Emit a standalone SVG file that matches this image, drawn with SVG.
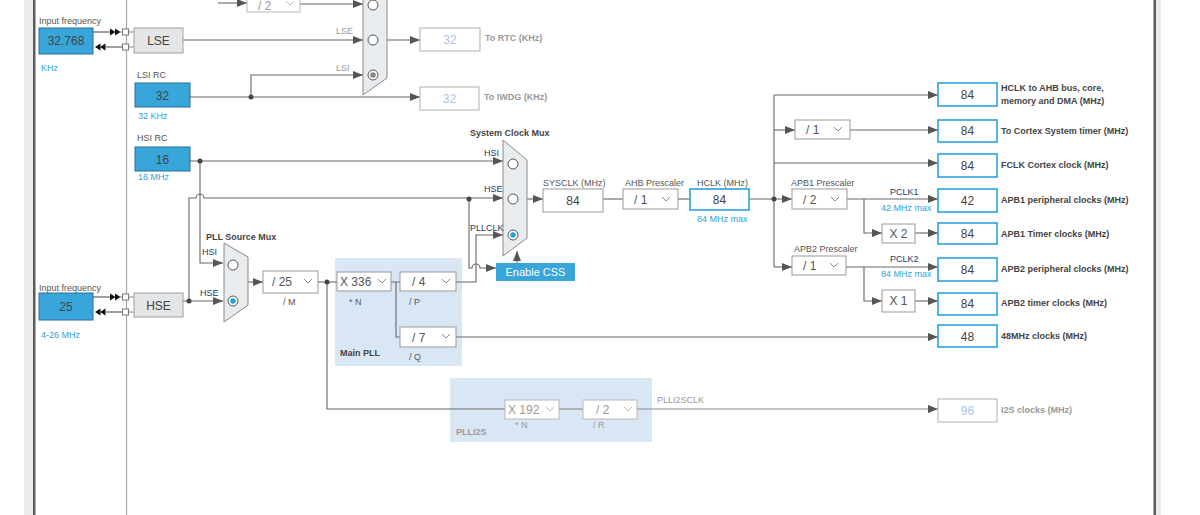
<svg xmlns="http://www.w3.org/2000/svg" width="1200" height="515" viewBox="0 0 1200 515">
<defs>
<style>
text{font-family:"Liberation Sans",Arial,sans-serif;}
.lbl{font-size:9px;fill:#555;}
.lblb{font-size:9px;fill:#444;font-weight:bold;}
.blu{font-size:9px;fill:#2aa2dc;}
.sig{font-size:9px;fill:#1d3a66;}
.gry{font-size:9px;fill:#999;}
.gryb{font-size:9px;fill:#999;font-weight:bold;}
.val{font-size:12px;fill:#444;text-anchor:middle;}
.valg{font-size:12px;fill:#aac4e4;text-anchor:middle;}
.dd{font-size:12px;fill:#555;}
.ddg{font-size:12px;fill:#999;}
.inbox{fill:#38a6da;stroke:#2b6f98;stroke-width:1;}
.gbox{fill:#e4e5e7;stroke:#a0a0a0;stroke-width:1;}
.dbox{fill:#fff;stroke:#999;stroke-width:1;}
.dboxg{fill:#fff;stroke:#b8b8b8;stroke-width:1;}
.obox{fill:#fff;stroke:#2aa2dc;stroke-width:1.6;}
.oboxg{fill:#fff;stroke:#b0b0b0;stroke-width:1;}
.mux{fill:#e9ecef;stroke:#8a8a8a;stroke-width:1;}
.panel{fill:#d9e7f5;}
.chev{fill:none;stroke:#888;stroke-width:1;}
.chevg{fill:none;stroke:#bbb;stroke-width:1;}
.ln{fill:none;stroke:#666;stroke-width:1.1;}
.lng{fill:none;stroke:#888;stroke-width:1.1;}
.arr{marker-end:url(#a);}
.circ{fill:#fff;stroke:#555;stroke-width:1;}
.dot{fill:#444;}
</style>
<marker id="a" markerWidth="10" markerHeight="8" refX="10" refY="4" orient="auto" markerUnits="userSpaceOnUse"><path d="M0,0 L10,4 L0,8 z" fill="#555"/></marker>
</defs>
<rect width="1200" height="515" fill="#fff"/>
<rect x="24" y="0" width="9" height="515" fill="#ebebeb"/>
<rect x="33" y="0" width="2.5" height="515" fill="#5c5c5c"/>
<rect x="1153.5" y="0" width="2.5" height="515" fill="#5c5c5c"/>
<rect x="1156" y="0" width="5" height="515" fill="#ebebeb"/>
<line x1="126.5" y1="0" x2="126.5" y2="515" stroke="#aaa" stroke-width="1.2"/>

<g id="panels">
<rect class="panel" x="335" y="258" width="127" height="108"/>
<rect class="panel" x="450" y="378" width="202" height="64"/>
</g>

<g id="connectors">
<path class="ln arr" d="M218,3 H247"/>
<path class="ln arr" d="M300,4 H363"/>
<path class="ln arr" d="M183,40 H363"/>
<path class="ln arr" d="M190,97 H420"/>
<path class="ln arr" d="M251,97 V75 H363"/>
<path class="ln arr" d="M387,40 H420"/>
<path class="ln arr" d="M190,161 H503"/>
<path class="ln arr" d="M200,161 V263 H223"/>
<path class="ln arr" d="M183,301 H223"/>
<path class="ln arr" d="M189,301 V198 H196 a4,4 0 0 1 8,0 H503"/>
<path class="ln arr" d="M469,199 V268 H472 a4,4 0 0 1 8,0 H496"/>
<path class="ln arr" d="M456,282 H476 V235 H503"/>
<path class="ln arr" d="M517,263 V251"/>
<path class="ln arr" d="M248,282 H263"/>
<path class="ln" d="M318,282 H337"/>
<path class="ln" d="M391,282 H400 M396,282 V337 H400"/>
<path class="ln" d="M327,282 V409 H505"/>
<path class="lng" d="M559,409 H583"/>
<path class="lng arr" d="M637,409 H938"/>
<path class="ln arr" d="M456,337 H938"/>
<path class="ln arr" d="M527,199 H543"/>
<path class="ln" d="M603,199 H623"/>
<path class="ln" d="M678,199 H690"/>
<path class="ln arr" d="M749,199 H792"/>
<path class="ln" d="M774,95 V267"/>
<path class="ln arr" d="M774,95 H938"/>
<path class="ln arr" d="M774,130 H795"/>
<path class="ln arr" d="M850,130 H938"/>
<path class="ln arr" d="M774,163 H938"/>
<path class="ln arr" d="M774,267 H792"/>
<path class="ln arr" d="M847,199 H938"/>
<path class="ln arr" d="M864,199 V233 H882"/>
<path class="ln arr" d="M915,233 H938"/>
<path class="ln arr" d="M846,267 H938"/>
<path class="ln arr" d="M864,267 V301 H882"/>
<path class="ln arr" d="M915,301 H938"/>
<circle class="dot" cx="251" cy="97" r="2.5"/>
<circle class="dot" cx="200" cy="161" r="2.5"/>
<circle class="dot" cx="189" cy="301" r="2.5"/>
<circle class="dot" cx="469" cy="199" r="2.5"/>
<circle class="dot" cx="327" cy="282" r="2.5"/>
<circle class="dot" cx="774" cy="199" r="2.5"/>
</g>

<g id="lse-input">
<text class="lbl" x="39" y="24">Input frequency</text>
<rect class="inbox" x="39" y="28" width="54" height="26"/>
<text class="val" x="66" y="45">32.768</text>
<text class="blu" x="41" y="71">KHz</text>
<path d="M93,32 H111 M106,47 H123" stroke="#444" stroke-width="1.2"/>
<polygon points="110,28.5 115.5,32 110,35.5" fill="#111"/>
<polygon points="115,28.5 120.5,32 115,35.5" fill="#111"/>
<polygon points="95,47 100.5,43.5 100.5,50.5" fill="#111"/>
<polygon points="100,47 105.5,43.5 105.5,50.5" fill="#111"/>
<path d="M120,32 H134 M128,47 H134" stroke="#888" stroke-width="1"/>
<rect x="122.5" y="29" width="6" height="6" fill="#fff" stroke="#777"/>
<rect x="122.5" y="44" width="6" height="6" fill="#fff" stroke="#777"/>
</g>
<g id="lse">
<rect class="gbox" x="134" y="28" width="49" height="25"/>
<text x="158.5" y="45" font-size="12" fill="#444" text-anchor="middle">LSE</text>
</g>

<g id="lsi-rc">
<text class="lbl" x="137" y="78">LSI RC</text>
<rect class="inbox" x="135" y="83" width="55" height="24"/>
<text class="val" x="162.5" y="100">32</text>
<text class="blu" x="138" y="119">32 KHz</text>
</g>

<g id="hsi-rc">
<text class="lbl" x="137" y="141">HSI RC</text>
<rect class="inbox" x="135" y="147" width="55" height="24"/>
<text class="val" x="162.5" y="164">16</text>
<text class="blu" x="138" y="180">16 MHz</text>
</g>

<g id="hse-input">
<text class="lbl" x="39" y="291">Input frequency</text>
<rect class="inbox" x="39" y="293" width="54" height="27"/>
<text class="val" x="66" y="311">25</text>
<text class="blu" x="41" y="338">4-26 MHz</text>
<path d="M93,297 H111 M106,312 H123" stroke="#444" stroke-width="1.2"/>
<polygon points="110,293.5 115.5,297 110,300.5" fill="#111"/>
<polygon points="115,293.5 120.5,297 115,300.5" fill="#111"/>
<polygon points="95,312 100.5,308.5 100.5,315.5" fill="#111"/>
<polygon points="100,312 105.5,308.5 105.5,315.5" fill="#111"/>
<path d="M120,297 H134 M128,312 H134" stroke="#888" stroke-width="1"/>
<rect x="122.5" y="294" width="6" height="6" fill="#fff" stroke="#777"/>
<rect x="122.5" y="309" width="6" height="6" fill="#fff" stroke="#777"/>
</g>
<g id="hse">
<rect class="gbox" x="134" y="293" width="49" height="24"/>
<text x="158.5" y="310" font-size="12" fill="#444" text-anchor="middle">HSE</text>
</g>

<g id="rtc-div2">
<rect class="dboxg" x="247" y="-10" width="53" height="22"/>
<text class="ddg" x="258" y="10" font-size="11">/ 2</text>
<polyline class="chevg" points="286,1 290,5 294,1"/>
</g>

<g id="rtc-mux">
<polygon class="mux" points="363,-15 387,0 387,78 363,95"/>
<circle class="circ" cx="373" cy="5" r="5" stroke="#888"/>
<circle class="circ" cx="373" cy="40" r="5" stroke="#888"/>
<circle class="circ" cx="373" cy="75" r="5" stroke="#888"/>
<circle cx="373" cy="75" r="2.8" fill="#888"/>
<text class="gry" x="336" y="34">LSE</text>
<text class="gry" x="336" y="71">LSI</text>
</g>

<g id="rtc-out">
<rect class="oboxg" x="420" y="28" width="60" height="23"/>
<text class="valg" x="450" y="44">32</text>
<text class="gryb" x="485" y="41">To RTC (KHz)</text>
</g>
<g id="iwdg-out">
<rect class="oboxg" x="420" y="87" width="59" height="23"/>
<text class="valg" x="449.5" y="103">32</text>
<text class="gryb" x="484" y="100">To IWDG (KHz)</text>
</g>

<g id="pll-source-mux">
<text class="lblb" x="206" y="240">PLL Source Mux</text>
<polygon class="mux" points="224,243 248,257 248,305 224,322"/>
<circle class="circ" cx="233" cy="265" r="5"/>
<circle class="circ" cx="233" cy="301" r="5" stroke="#2aa2dc"/>
<circle cx="233" cy="301" r="2.8" fill="#2aa2dc"/>
<text class="sig" x="202" y="255">HSI</text>
<text class="sig" x="200" y="296">HSE</text>
</g>

<g id="div-m">
<rect class="dbox" x="263" y="271" width="55" height="22"/>
<text class="dd" x="272" y="286">/ 25</text>
<polyline class="chev" points="304,279 308,283 312,279"/>
<text class="lbl" x="283" y="305">/ M</text>
</g>

<g id="main-pll">
<rect class="dbox" x="337" y="272" width="54" height="19"/>
<text class="dd" x="340" y="286">X 336</text>
<polyline class="chev" points="378,279 382,283 386,279"/>
<text class="lbl" x="349" y="305">* N</text>
<rect class="dbox" x="400" y="272" width="56" height="19"/>
<text class="dd" x="412" y="286">/ 4</text>
<polyline class="chev" points="442,279 446,283 450,279"/>
<text class="lbl" x="409" y="305">/ P</text>
<rect class="dbox" x="400" y="327" width="56" height="20"/>
<text class="dd" x="412" y="342">/ 7</text>
<polyline class="chev" points="442,334 446,338 450,334"/>
<text class="lbl" x="409" y="360">/ Q</text>
<text class="lblb" x="340" y="356">Main PLL</text>
</g>

<g id="plli2s">
<rect class="dboxg" x="505" y="400" width="54" height="19"/>
<text class="ddg" x="508" y="414">X 192</text>
<polyline class="chevg" points="546,407 550,411 554,407"/>
<text class="gry" x="515" y="428" font-size="8">* N</text>
<rect class="dboxg" x="583" y="400" width="54" height="19"/>
<text class="ddg" x="596" y="414">/ 2</text>
<polyline class="chevg" points="624,407 628,411 632,407"/>
<text class="gry" x="593" y="428" font-size="8">/ R</text>
<text class="gryb" x="456" y="435">PLLI2S</text>
<text class="gry" x="657" y="403">PLLI2SCLK</text>
</g>

<g id="i2s-out">
<rect class="oboxg" x="938" y="399" width="59" height="23"/>
<text class="valg" x="967.5" y="415">96</text>
<text class="gryb" x="1001" y="413">I2S clocks (MHz)</text>
</g>

<g id="system-clock-mux">
<text class="lblb" x="470" y="136">System Clock Mux</text>
<polygon class="mux" points="503,140 527,160 527,238 503,256"/>
<circle class="circ" cx="513" cy="164" r="5"/>
<circle class="circ" cx="513" cy="199" r="5"/>
<circle class="circ" cx="513" cy="235" r="5" stroke="#2aa2dc"/>
<circle cx="513" cy="235" r="2.8" fill="#2aa2dc"/>
<text class="sig" x="484" y="156">HSI</text>
<text class="sig" x="484" y="192">HSE</text>
<text class="sig" x="470" y="231">PLLCLK</text>
</g>

<g id="enable-css">
<rect x="496" y="263" width="79" height="18" fill="#38a6da"/>
<text x="535.5" y="276" font-size="11" fill="#fff" text-anchor="middle">Enable CSS</text>
</g>

<g id="sysclk">
<text class="lbl" x="543" y="186">SYSCLK (MHz)</text>
<rect class="dbox" x="543" y="189" width="60" height="23"/>
<text class="val" x="573" y="205">84</text>
</g>

<g id="ahb-prescaler">
<text class="lbl" x="625" y="186">AHB Prescaler</text>
<rect class="dbox" x="623" y="189" width="55" height="20"/>
<text class="dd" x="634" y="204">/ 1</text>
<polyline class="chev" points="662,197 666,201 670,197"/>
</g>

<g id="hclk">
<text class="lbl" x="697" y="186">HCLK (MHz)</text>
<rect class="obox" x="690" y="189" width="59" height="21"/>
<text class="val" x="719.5" y="204">84</text>
<text class="blu" x="697" y="222">84 MHz max</text>
</g>

<g id="cortex-prescaler">
<rect class="dbox" x="795" y="120" width="55" height="19"/>
<text class="dd" x="806" y="134">/ 1</text>
<polyline class="chev" points="834,127 838,131 842,127"/>
</g>

<g id="apb1-prescaler">
<text class="lbl" x="791" y="186">APB1 Prescaler</text>
<rect class="dbox" x="792" y="189" width="55" height="20"/>
<text class="dd" x="803" y="204">/ 2</text>
<polyline class="chev" points="831,197 835,201 839,197"/>
<text class="sig" x="890" y="195">PCLK1</text>
<text class="blu" x="881" y="211">42 MHz max</text>
</g>
<g id="apb1-timer-mult">
<rect class="dbox" x="882" y="224" width="33" height="19"/>
<text class="dd" x="898.5" y="238" text-anchor="middle">X 2</text>
</g>

<g id="apb2-prescaler">
<text class="lbl" x="794" y="252">APB2 Prescaler</text>
<rect class="dbox" x="792" y="256" width="54" height="19"/>
<text class="dd" x="803" y="270">/ 1</text>
<polyline class="chev" points="830,263 834,267 838,263"/>
<text class="sig" x="890" y="262">PCLK2</text>
<text class="blu" x="881" y="277">84 MHz max</text>
</g>
<g id="apb2-timer-mult">
<rect class="dbox" x="882" y="290" width="33" height="22"/>
<text class="dd" x="898.5" y="305" text-anchor="middle">X 1</text>
</g>

<g id="out-hclk">
<rect class="obox" x="938" y="83" width="59" height="23"/>
<text class="val" x="967.5" y="99">84</text>
<text class="lblb" x="1001" y="91">HCLK to AHB bus, core,</text>
<text class="lblb" x="1001" y="104">memory and DMA (MHz)</text>
</g>
<g id="out-systick">
<rect class="obox" x="938" y="120" width="59" height="22"/>
<text class="val" x="967.5" y="135">84</text>
<text class="lblb" x="1001" y="134">To Cortex System timer (MHz)</text>
</g>
<g id="out-fclk">
<rect class="obox" x="938" y="154" width="59" height="23"/>
<text class="val" x="967.5" y="170">84</text>
<text class="lblb" x="1001" y="168">FCLK Cortex clock (MHz)</text>
</g>
<g id="out-apb1">
<rect class="obox" x="938" y="189" width="59" height="23"/>
<text class="val" x="967.5" y="205">42</text>
<text class="lblb" x="1001" y="203">APB1 peripheral clocks (MHz)</text>
</g>
<g id="out-apb1-timer">
<rect class="obox" x="938" y="223" width="59" height="21"/>
<text class="val" x="967.5" y="238">84</text>
<text class="lblb" x="1001" y="237">APB1 Timer clocks (MHz)</text>
</g>
<g id="out-apb2">
<rect class="obox" x="938" y="258" width="59" height="23"/>
<text class="val" x="967.5" y="274">84</text>
<text class="lblb" x="1001" y="272">APB2 peripheral clocks (MHz)</text>
</g>
<g id="out-apb2-timer">
<rect class="obox" x="938" y="293" width="59" height="22"/>
<text class="val" x="967.5" y="308">84</text>
<text class="lblb" x="1001" y="306">APB2 timer clocks (MHz)</text>
</g>
<g id="out-48mhz">
<rect class="obox" x="938" y="325" width="59" height="22"/>
<text class="val" x="967.5" y="341">48</text>
<text class="lblb" x="1001" y="339">48MHz clocks (MHz)</text>
</g>
</svg>
